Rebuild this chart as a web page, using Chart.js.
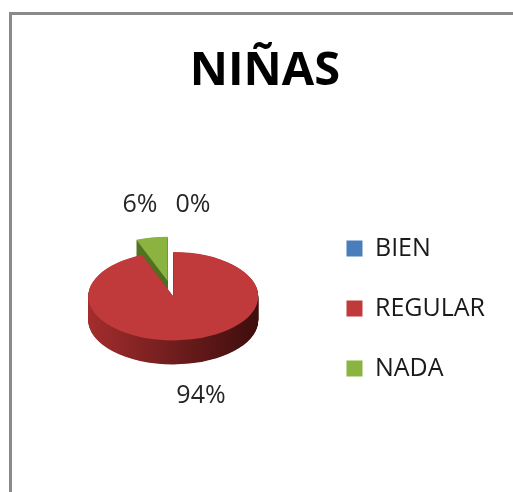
<!DOCTYPE html>
<html>
<head>
<meta charset="utf-8">
<script src="https://cdn.jsdelivr.net/npm/chart.js@4.4.0/dist/chart.umd.min.js"></script>
<style>
  html, body { margin: 0; padding: 0; background: #fff; }
  #frame { position: absolute; left: 9px; top: 12px; width: 504px; height: 480px;
           border-left: 3px solid #8a8a8a; border-top: 3px solid #8a8a8a; }
</style>
</head>
<body>
<div id="frame"><canvas id="myChart" width="501" height="477"></canvas></div>
<script>
// data
var categories = ["BIEN", "REGULAR", "NADA"];
var percents = [0, 94, 6];

// look
var faceColors = ["#4a7ebb", "#c0393b", "#8ab43f"];
var sideColors = [["#3b6aa0", "#1f3a5c"], ["#a32d2d", "#3e0d0d"], ["#5d7f27", "#3f5a17"]];
var explode = [0, 0, 30];   // pulled-out slice, in px of the flat pie
var tilt = 0.52;            // vertical squash of the pie
var depth = 24;             // thickness of the 3d side

// draws the pie flattened with a side, and the % labels
var pie3d = {
  id: 'pie3d',
  beforeDatasetsDraw: function(chart) {
    var ctx = chart.ctx;
    var arcs = chart.getDatasetMeta(0).data;
    var cx = arcs[0].x, cy = arcs[0].y, r = arcs[0].outerRadius;

    function paint(arc, i, fill, dy) {
      if (arc.circumference <= 0) return;
      var mid = (arc.startAngle + arc.endAngle) / 2;
      var el = Object.create(arc);
      el.options = Object.assign({}, arc.options, { backgroundColor: fill, borderWidth: 0 });
      ctx.save();
      ctx.translate(Math.cos(mid) * explode[i], Math.sin(mid) * explode[i] + dy);
      el.draw(ctx);
      ctx.restore();
    }

    var sideFill = sideColors.map(function(p) {
      var g = ctx.createLinearGradient(cx - r, 0, cx + r, 0);
      g.addColorStop(0, p[0]);
      g.addColorStop(1, p[1]);
      return g;
    });

    ctx.save();
    ctx.translate(cx, cy);
    ctx.scale(1, tilt);
    ctx.translate(-cx, -cy);
    for (var d = depth; d > 0; d -= 0.5) {
      arcs.forEach(function(a, i) { paint(a, i, sideFill[i], d / tilt); });
    }
    arcs.forEach(function(a, i) { paint(a, i, faceColors[i], 0); });
    ctx.restore();

    // labels
    var total = percents.reduce(function(s, v) { return s + v; }, 0);
    ctx.save();
    ctx.font = '25px "Open Sans"';
    ctx.fillStyle = '#262626';
    ctx.textAlign = 'center';
    ctx.textBaseline = 'middle';
    var labs = arcs.map(function(arc, i) {
      var mid = (arc.startAngle + arc.endAngle) / 2;
      var dist = r * 1.74 + explode[i];
      var txt = Math.round(percents[i] / total * 100) + '%';
      return {
        x: cx + Math.cos(mid) * dist,
        y: cy + Math.sin(mid) * dist * tilt + (Math.sin(mid) > 0 ? depth : 0),
        w: ctx.measureText(txt).width,
        text: txt
      };
    });
    // keep labels apart
    labs.forEach(function(a) {
      labs.forEach(function(b) {
        if (a === b || Math.abs(a.y - b.y) > 25) return;
        if (a.x >= b.x && a.x - a.w / 2 < b.x + b.w / 2 + 18) {
          a.x = b.x + b.w / 2 + 18 + a.w / 2;
          a.y = b.y;
        }
      });
    });
    labs.forEach(function(l) { ctx.fillText(l.text, l.x, l.y); });
    ctx.restore();
    return false;
  }
};

Chart.defaults.font.family = '"Open Sans", sans-serif';

var ctx = document.getElementById("myChart").getContext('2d');
var myChart = new Chart(ctx, {
  type: 'pie',
  data: {
    labels: categories,
    datasets: [{
      data: percents,
      backgroundColor: faceColors,
      borderWidth: 0
    }]
  },
  options: {
    responsive: false,
    animation: false,
    devicePixelRatio: 1,
    radius: 85,
    layout: { padding: { left: 23, right: 18, top: 0, bottom: 66 } },
    plugins: {
      title: {
        display: true,
        text: 'NIÑAS',
        color: '#000',
        font: { size: 47, weight: 'bold', lineHeight: 1.2 },
        padding: { top: 28, bottom: 67 }
      },
      legend: {
        position: 'right',
        title: { display: true, text: ' ', font: { size: 10, lineHeight: 17.6 }, padding: 0 },
        labels: {
          color: '#1a1a1a',
          font: { size: 25 },
          boxWidth: 16,
          boxHeight: 16,
          padding: 35
        }
      },
      tooltip: { enabled: false }
    }
  },
  plugins: [pie3d]
});
</script>
</body>
</html>
